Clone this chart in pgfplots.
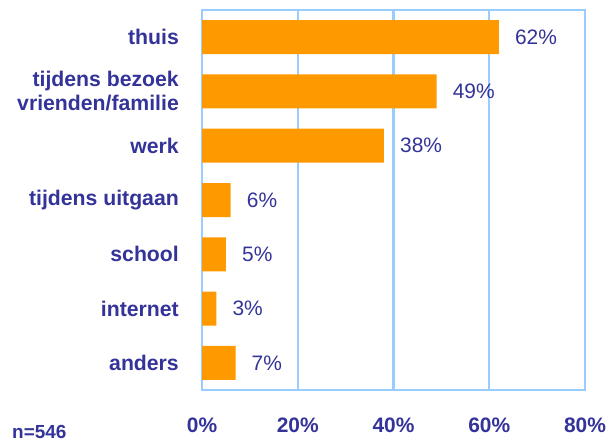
\documentclass[border=0pt]{standalone}
\usepackage{pgfplots}
\pgfplotsset{compat=1.18}
\usepackage{fontspec}
\setmainfont{Liberation Sans}
\definecolor{navy}{HTML}{333399}
\definecolor{barorange}{HTML}{FF9900}
\definecolor{frameblue}{HTML}{99CCFF}
\begin{document}
\begin{tikzpicture}
\path[use as bounding box] (0,0) rectangle (610bp,441bp);
\begin{axis}[
  at={(202bp,51bp)}, anchor=south west,
  width=383bp, height=380bp, scale only axis,
  /pgf/number format/assume math mode=true,
  xbar, bar width=34bp,
  xmin=0, xmax=80, ymin=-0.5, ymax=6.5,
  y dir=reverse,
  xtick={0,20,40,60,80},
  xticklabels={0\%,20\%,40\%,60\%,80\%},
  ytick={0,1,2,3,4,5,6},
  yticklabels={thuis,{tijdens bezoek\\vrienden/familie},werk,tijdens uitgaan,school,internet,anders},
  yticklabel style={align=right, inner sep=0pt, anchor=east, xshift=-23bp, font=\fontsize{21.3}{24}\selectfont\bfseries, text=navy},
  xticklabel style={inner sep=0pt, anchor=north, yshift=-28bp, font=\fontsize{21}{24}\selectfont\bfseries, text=navy},
  major tick length=0pt,
  tick style={draw=none},
  xmajorgrids,
  grid style={draw=frameblue, line width=2.2bp},
  major grid style={draw=frameblue, line width=2.2bp},
  axis line style={draw=frameblue, line width=2.2bp},
  point meta=x,
  nodes near coords={\pgfmathprintnumber{\pgfplotspointmeta}\%},
  nodes near coords style={anchor=west, inner sep=0pt, xshift=16bp, font=\fontsize{21}{24}\selectfont, text=navy},
]
\addplot[fill=barorange, draw=none] coordinates {
  (62,0) (49,1) (38,2) (6,3) (5,4) (3,5) (7,6)
};
\end{axis}
\node[anchor=base west, inner sep=0pt, text=navy, font=\fontsize{19}{22}\selectfont\bfseries] at (12bp,3bp) {n=546};
\end{tikzpicture}
\end{document}
